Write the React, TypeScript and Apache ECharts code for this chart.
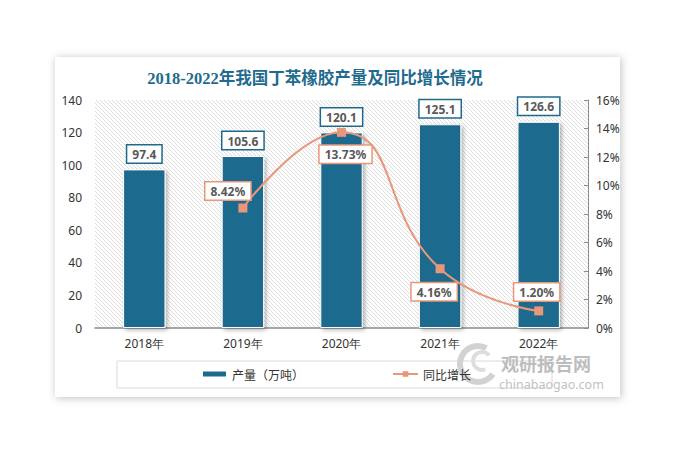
import React, { useEffect, useRef } from "react";
import * as echarts from "echarts";

const categories = ["2018年", "2019年", "2020年", "2021年", "2022年"];
const production = [97.4, 105.6, 120.1, 125.1, 126.6];
const growth: (number | null)[] = [null, 8.42, 13.73, 4.16, 1.2];
const growthLabelPos = ["top", "top", "bottom", "bottom", "top"];
const growthLabelOffset = [[0, 0], [-15, 2], [4, 3], [-6, 4], [-2, 0]];

const title = "2018-2022年我国丁苯橡胶产量及同比增长情况";
const barName = "产量（万吨）";
const lineName = "同比增长";

const BAR = "#1d6a8d";
const LINE = "#e9977a";

const hatchSvg =
  "<svg xmlns='http://www.w3.org/2000/svg' width='4' height='4'>" +
  "<rect width='4' height='4' fill='#ffffff'/>" +
  "<path d='M0,0 L4,4 M-1,3 L1,5 M3,-1 L5,1' stroke='#d6d6d6' stroke-width='0.8'/></svg>";
const hatchUrl = "data:image/svg+xml;charset=utf-8," + encodeURIComponent(hatchSvg);

export default function App() {
  const ref = useRef<HTMLDivElement>(null);
  useEffect(() => {
    if (!ref.current) return;
    const chart = echarts.init(ref.current, null, { renderer: "svg" });
    const labelText = {
      fontFamily: "Noto Sans",
      fontWeight: "bold" as const,
      fontSize: 12,
      color: "#595959",
      backgroundColor: "#ffffff",
      padding: [3, 5, 2, 5],
    };
    chart.setOption({
      animation: false,
      backgroundColor: "#ffffff",
      title: {
        text: title,
        left: 310,
        textAlign: "center",
        top: 65,
        textStyle: {
          fontFamily: "Liberation Serif, Noto Sans CJK SC",
          fontWeight: "bold",
          fontSize: 16.5,
          color: "#1f6b8e",
        },
      },
      graphic: [
        {
          type: "rect",
          z: -10,
          shape: { x: 55, y: 57, width: 565, height: 340 },
          style: { fill: "#ffffff", shadowBlur: 8, shadowColor: "rgba(0,0,0,0.25)", shadowOffsetX: 1, shadowOffsetY: 1 },
        },
        {
          type: "rect",
          z: -5,
          shape: { x: 117, y: 361, width: 435, height: 27 },
          style: { fill: "#ffffff", stroke: "#d9d9d9", lineWidth: 1 },
        },
        {
          type: "arc",
          z: -4,
          shape: { cx: 478, cy: 364, r: 18, startAngle: 0.6, endAngle: 5.2 },
          style: { stroke: "#d2d2d2", lineWidth: 6, fill: "none" },
        },
        {
          type: "arc",
          z: -4,
          shape: { cx: 482, cy: 361, r: 9, startAngle: 1.2, endAngle: 5.6 },
          style: { stroke: "#dddddd", lineWidth: 4, fill: "none" },
        },
        {
          type: "text",
          z: 5,
          x: 501,
          y: 354,
          style: { text: "观研报告网", fontSize: 18, fontWeight: "bold", fill: "#bdbdbd", fontFamily: "Noto Sans CJK SC" },
        },
        {
          type: "text",
          z: 5,
          x: 499,
          y: 378,
          style: { text: "chinabaogao.com", fontSize: 12.5, fill: "#c2c2c2", fontFamily: "Noto Sans" },
        },
      ],
      legend: {
        left: 196,
        top: 363,
        itemGap: 88,
        itemWidth: 25,
        itemHeight: 7,
        textStyle: { fontSize: 12, color: "#333333", fontFamily: "Noto Sans CJK SC" },
        data: [
          { name: barName, icon: "rect" },
          { name: lineName },
        ],
      },
      grid: {
        left: 95,
        right: 90,
        top: 100,
        bottom: 121,
        show: true,
        borderWidth: 0,
        backgroundColor: { image: hatchUrl, repeat: "repeat" },
      },
      xAxis: {
        type: "category",
        data: categories,
        axisLine: { lineStyle: { color: "#8c8c8c", width: 1.5 } },
        axisTick: { show: false },
        axisLabel: { fontSize: 12, color: "#333333", fontFamily: "Noto Sans", margin: 9 },
      },
      yAxis: [
        {
          type: "value",
          min: 0,
          max: 140,
          interval: 20,
          splitLine: { show: false },
          axisLine: { show: false },
          axisTick: { show: false },
          axisLabel: { fontSize: 12, color: "#333333", fontFamily: "Noto Sans", margin: 13 },
        },
        {
          type: "value",
          min: 0,
          max: 16,
          interval: 2,
          position: "right",
          splitLine: { show: false },
          axisLine: { show: true, lineStyle: { color: "#8c8c8c" } },
          axisTick: { show: true, inside: true, length: 4, lineStyle: { color: "#8c8c8c" } },
          axisLabel: { fontSize: 12, color: "#333333", fontFamily: "Noto Sans", margin: 8, formatter: "{value}%" },
        },
      ],
      series: [
        {
          name: barName,
          type: "bar",
          data: production,
          barWidth: "43%",
          itemStyle: {
            color: BAR,
            borderColor: "#ffffff",
            borderWidth: 1,
            shadowBlur: 4,
            shadowColor: "rgba(0,0,0,0.3)",
            shadowOffsetX: 2,
            shadowOffsetY: 2,
          },
          label: {
            show: true,
            position: "top",
            distance: 7,
            ...labelText,
            borderColor: BAR,
            borderWidth: 1.5,
          },
        },
        {
          name: lineName,
          type: "line",
          yAxisIndex: 1,
          smooth: true,
          symbol: "rect",
          symbolSize: 9,
          lineStyle: { color: LINE, width: 2 },
          itemStyle: { color: LINE },
          data: growth.map((v, i) => ({
            value: v,
            label: {
              position: growthLabelPos[i],
              offset: growthLabelOffset[i],
            },
          })),
          label: {
            show: true,
            distance: 6,
            formatter: (p: any) => Number(p.value).toFixed(2) + "%",
            ...labelText,
            borderColor: LINE,
            borderWidth: 1.5,
          },
          z: 3,
        },
      ],
    });
    return () => chart.dispose();
  }, []);
  return (
    <div
      ref={ref}
      style={{ position: "absolute", left: 0, top: 0, width: 678, height: 449 }}
    />
  );
}
